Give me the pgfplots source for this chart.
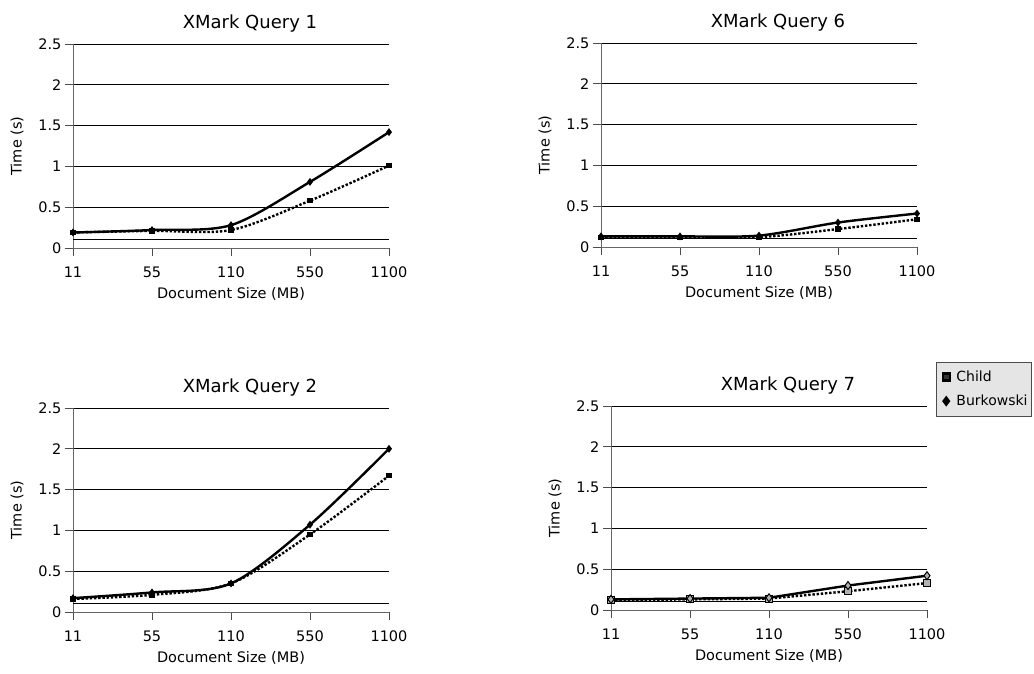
\documentclass[border=0pt]{standalone}
\usepackage{fontspec}
\setmainfont{DejaVu Sans}
\usepackage{pgfplots}
\pgfplotsset{compat=1.18}
\newcommand{\ft}{\fontsize{14.5}{17}\selectfont}
\pgfplotsset{
 xm/.style={scale only axis, width=316pt, height=204pt, anchor=south west,
  xmin=0, xmax=4, ymin=0, ymax=2.5,
  axis x line*=bottom, axis y line*=left,
  xtick={0,1,2,3,4}, xticklabels={11,55,110,550,1100},
  ytick={0,0.5,1,1.5,2,2.5}, yticklabels={0,0.5,1,1.5,2,2.5},
  extra y ticks={0.1}, extra y tick labels={}, extra y tick style={major tick length=0pt},
  ymajorgrids, grid style={black, line width=0.8pt},
  tick align=outside, major tick length=8pt, tick style={black!70, line width=0.8pt},
  axis line style={black!60, line width=0.8pt},
  ticklabel style={font=\ft},
  xticklabel style={yshift=-7pt},
  xlabel={Document Size (MB)}, ylabel={Time (s)},
  label style={font=\ft},
  xlabel style={yshift=-3pt},
  title style={font=\fontsize{18}{21}\selectfont, at={(0.56,1)}, anchor=south, yshift=2pt},
  clip=false,
 },
 child/.style={black, line width=2.4pt, dash pattern=on 2.4pt off 1.8pt, mark=square*, mark size=1.5pt, mark options={solid}},
 burk/.style={black, line width=2.4pt, mark=diamond*, mark size=2pt, mark options={solid}},
}
\begin{document}
\begin{tikzpicture}
\useasboundingbox (0,0) rectangle (1034pt,673pt);
% Query 1
\begin{axis}[xm, at={(73pt,425pt)}, title={XMark Query 1}]
\addplot[child, smooth] coordinates {(0,0.19) (1,0.21) (2,0.22) (3,0.58) (4,1.01)};
\addplot[burk, smooth] coordinates {(0,0.19) (1,0.22) (2,0.28) (3,0.81) (4,1.42)};
\end{axis}
% Query 6
\begin{axis}[xm, at={(601pt,426pt)}, title={XMark Query 6}]
\addplot[child, smooth] coordinates {(0,0.12) (1,0.12) (2,0.12) (3,0.22) (4,0.34)};
\addplot[burk, smooth] coordinates {(0,0.13) (1,0.13) (2,0.14) (3,0.30) (4,0.41)};
\end{axis}
% Query 2
\begin{axis}[xm, at={(73pt,61pt)}, title={XMark Query 2}]
\addplot[child, smooth] coordinates {(0,0.16) (1,0.21) (2,0.35) (3,0.95) (4,1.67)};
\addplot[burk, smooth] coordinates {(0,0.17) (1,0.24) (2,0.35) (3,1.07) (4,2.00)};
\end{axis}
% Query 7
\begin{axis}[xm, at={(611pt,63pt)}, title={XMark Query 7},
 legend style={at={(1.028,1.217)}, anchor=north west, draw=black!70, fill=gray!20,
  font=\fontsize{14}{17}\selectfont, row sep=8pt, inner ysep=7pt, inner xsep=2pt},
 legend cell align=left,
 legend image code/.code={\path (0pt,0pt) (14pt,0pt); \draw[#1] plot coordinates {(7pt,0pt)};}]
\addplot[child, mark size=3.5pt, mark options={solid, fill=gray!60, draw=black, line width=1pt}, legend image post style={mark size=3.5pt, mark options={solid, fill=black!80, draw=black}}] coordinates {(0,0.12) (1,0.13) (2,0.14) (3,0.23) (4,0.33)};
\addlegendentry{Child}
\addplot[burk, mark size=4pt, mark options={solid, fill=gray!60, draw=black, line width=1pt}, legend image post style={mark size=3.5pt, mark options={solid, fill=black}}] coordinates {(0,0.13) (1,0.14) (2,0.15) (3,0.30) (4,0.42)};
\addlegendentry{Burkowski}
\end{axis}
\end{tikzpicture}
\end{document}
